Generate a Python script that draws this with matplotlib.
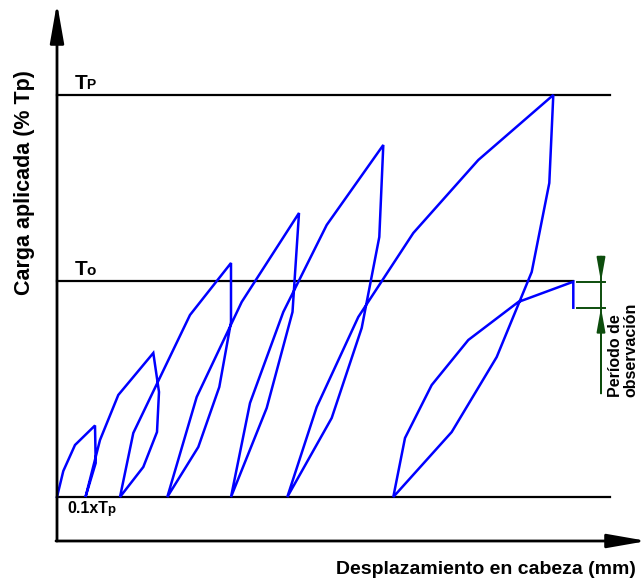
import matplotlib
matplotlib.use("Agg")
import matplotlib.pyplot as plt
from matplotlib import font_manager

# ---- data (x: displacement, arbitrary mm ; y: load in % Tp) ----
disp = [0.0, 0.63, 1.8, 3.8, 3.87, 2.85, 4.3, 6.13, 9.63, 10.2, 10.0, 8.63, 6.3,
        7.63, 13.3, 17.4, 17.4, 16.23, 14.13, 11.03, 13.97, 18.47, 24.2, 23.55,
        20.97, 17.4, 19.3, 22.63, 26.97, 32.63, 32.23, 30.47, 27.47, 23.03,
        25.97, 30.13, 35.63, 42.13, 49.63, 49.23, 47.47, 43.97, 39.47, 33.63,
        34.8, 37.47, 41.13, 46.13, 51.63, 51.63]
load = [10.0, 15.82, 21.64, 26.01, 17.61, 10.0, 22.76, 32.84, 42.24, 33.51, 24.55,
        16.72, 10.0, 24.33, 50.75, 62.39, 49.18, 34.63, 21.19, 10.0, 32.39, 53.66,
        73.58, 51.42, 29.93, 10.0, 31.04, 51.42, 70.90, 88.81, 68.21, 47.84,
        27.69, 10.0, 30.15, 50.30, 69.10, 85.45, 100.0, 80.30, 60.37, 41.34,
        24.55, 10.0, 23.21, 35.07, 45.15, 53.66, 58.2, 52.38]

level_values = [100.0, 58.3, 10.0]

x_label = "Desplazamiento en cabeza (mm)"
y_label = "Carga aplicada (% Tp)"
obs_label = "Período de\nobservación"

# ---- fonts ----
avail = {f.name for f in font_manager.fontManager.ttflist}
FAM = [f for f in ["Liberation Sans", "Arial", "DejaVu Sans"] if f in avail]

W, H = 641, 587
fig = plt.figure(figsize=(W / 100, H / 100), dpi=100)
ax = fig.add_axes([0, 0, 1, 1])
k = 90.0 / 402.0
ax.set_xlim(-5.7, 58.4)
ax.set_ylim(10 - (587 - 497) * k, 10 + 497 * k)
ax.axis("off")

# axes with arrows
arrow_kw = dict(arrowstyle="-|>,head_length=2.4,head_width=0.42", color="black",
                lw=2.0, shrinkA=0, shrinkB=0, mutation_scale=10)
ax.annotate("", xy=(0, 120.6), xytext=(0, 0.15), arrowprops=arrow_kw,
            annotation_clip=False)
ax.annotate("", xy=(59.0, 0.15), xytext=(-0.1, 0.15), arrowprops=arrow_kw,
            annotation_clip=False)

# reference levels
ax.plot([0, 55.3], [level_values[0]] * 2, color="black", lw=1.6)
ax.plot([0, 51.63], [level_values[1]] * 2, color="black", lw=1.6)
ax.plot([0, 55.3], [level_values[2]] * 2, color="black", lw=1.6)

# load-displacement curve
ax.plot(disp, load, color="#0000ff", lw=1.8, solid_joinstyle="miter")

# observation period annotation
green = "#0d4d0d"
ya, yb = load[-2], load[-1]
ax.plot([51.97, 54.8], [ya, ya], color=green, lw=1.4)
ax.plot([51.97, 54.8], [yb, yb], color=green, lw=1.4)
ax.plot([54.4, 54.4], [33.2, 63.8], color=green, lw=1.4)
ak = dict(arrowstyle="-|>,head_length=1.4,head_width=0.25", color=green, lw=1.4,
          shrinkA=0, shrinkB=0, mutation_scale=10)
ax.annotate("", xy=(54.4, ya), xytext=(54.4, 63.8), arrowprops=ak)
ax.annotate("", xy=(54.4, yb), xytext=(54.4, 33.2), arrowprops=ak)
ax.text(55.15, 32.4, obs_label, rotation=90, ha="left", va="bottom",
        fontsize=11.5, fontweight="bold", family=FAM, color="black",
        multialignment="left", linespacing=1.0)

# level labels
ax.text(1.8, 101.3, "T", fontsize=15, family=FAM, fontweight="bold", ha="left", va="baseline")
ax.text(2.95, 101.3, "P", fontsize=10, family=FAM, fontweight="bold", ha="left", va="baseline")
ax.text(1.8, 59.6, "T", fontsize=15, family=FAM, fontweight="bold", ha="left", va="baseline")
ax.text(2.95, 59.6, "o", fontsize=11, family=FAM, fontweight="bold", ha="left", va="baseline")
ax.text(1.0, 6.4, "0.1xT", fontsize=11.5, family=FAM, fontweight="bold", ha="left", va="baseline")
ax.text(5.0, 6.4, "p", fontsize=9.5, family=FAM, fontweight="bold", ha="left", va="baseline")

fig.text(486 / W, 1 - 570 / H, x_label, ha="center", va="center", fontsize=14,
         fontweight="bold", family=FAM)
fig.text(25 / W, 1 - 182.5 / H, y_label, ha="center", va="center", rotation=90,
         fontsize=15.5, fontweight="bold", family=FAM)

fig.savefig("out.png", dpi=100)
